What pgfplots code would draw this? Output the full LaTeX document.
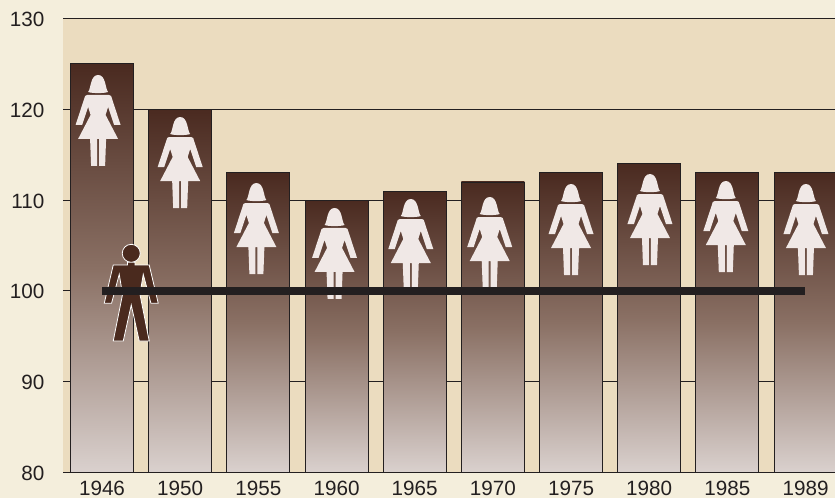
\documentclass[border=0pt]{standalone}
\usepackage{pgfplots}
\pgfplotsset{compat=1.18}
\usepackage{fontspec}
\setmainfont{Liberation Sans}
\definecolor{pagebg}{HTML}{F4EEDC}
\definecolor{plotbg}{HTML}{EBDCBF}
\definecolor{bartop}{HTML}{4A2A20}
\definecolor{barmid}{HTML}{8A7064}
\definecolor{barbot}{HTML}{DAD1CE}
\definecolor{womanc}{HTML}{F0E8E6}
\definecolor{manc}{HTML}{4A2A1E}
\definecolor{inkc}{HTML}{231F20}
\pgfdeclareplotmark{woman}{%
  \pgfsetxvec{\pgfpoint{0.75pt}{0pt}}\pgfsetyvec{\pgfpoint{0pt}{-0.75pt}}%
  \pgfsetfillcolor{womanc}%
  % head
  \pgfpathmoveto{\pgfpointxy{-10}{17}}%
  \pgfpathcurveto{\pgfpointxy{-7}{14}}{\pgfpointxy{-8}{0}}{\pgfpointxy{0}{0}}%
  \pgfpathcurveto{\pgfpointxy{8}{0}}{\pgfpointxy{7}{14}}{\pgfpointxy{10}{17}}%
  \pgfpathcurveto{\pgfpointxy{6}{18.5}}{\pgfpointxy{-6}{18.5}}{\pgfpointxy{-10}{17}}%
  \pgfpathclose
  % body
  \pgfpathmoveto{\pgfpointxy{-11}{20}}%
  \pgfpathlineto{\pgfpointxy{11}{20}}%
  \pgfpathlineto{\pgfpointxy{13}{21}}%
  \pgfpathlineto{\pgfpointxy{22.5}{50}}%
  \pgfpathlineto{\pgfpointxy{16}{50}}%
  \pgfpathlineto{\pgfpointxy{10}{32}}%
  \pgfpathlineto{\pgfpointxy{7.5}{40}}%
  \pgfpathlineto{\pgfpointxy{20}{64}}%
  \pgfpathlineto{\pgfpointxy{8}{64}}%
  \pgfpathlineto{\pgfpointxy{7}{91}}%
  \pgfpathlineto{\pgfpointxy{1}{91}}%
  \pgfpathlineto{\pgfpointxy{1}{64}}%
  \pgfpathlineto{\pgfpointxy{-1}{64}}%
  \pgfpathlineto{\pgfpointxy{-1}{91}}%
  \pgfpathlineto{\pgfpointxy{-7}{91}}%
  \pgfpathlineto{\pgfpointxy{-8}{64}}%
  \pgfpathlineto{\pgfpointxy{-20}{64}}%
  \pgfpathlineto{\pgfpointxy{-7.5}{40}}%
  \pgfpathlineto{\pgfpointxy{-10}{32}}%
  \pgfpathlineto{\pgfpointxy{-16}{50}}%
  \pgfpathlineto{\pgfpointxy{-22.5}{50}}%
  \pgfpathlineto{\pgfpointxy{-13}{21}}%
  \pgfpathclose
  \pgfusepath{fill}%
}
\pgfdeclareplotmark{man}{%
  \pgfsetxvec{\pgfpoint{0.75pt}{0pt}}\pgfsetyvec{\pgfpoint{0pt}{-0.75pt}}%
  \pgfsetfillcolor{manc}\pgfsetstrokecolor{white}\pgfsetlinewidth{0.6pt}%
  \pgfpathcircle{\pgfpointxy{0}{9}}{6.75pt}%
  \pgfpathmoveto{\pgfpointxy{-3.7}{18}}%
  \pgfpathlineto{\pgfpointxy{3.7}{18}}%
  \pgfpathlineto{\pgfpointxy{3.7}{20.7}}%
  \pgfpathlineto{\pgfpointxy{18}{20.7}}%
  \pgfpathlineto{\pgfpointxy{27}{59}}%
  \pgfpathlineto{\pgfpointxy{19.7}{59}}%
  \pgfpathlineto{\pgfpointxy{12}{30}}%
  \pgfpathlineto{\pgfpointxy{8.7}{50}}%
  \pgfpathlineto{\pgfpointxy{18}{96.7}}%
  \pgfpathlineto{\pgfpointxy{8}{96.7}}%
  \pgfpathlineto{\pgfpointxy{0}{60.7}}%
  \pgfpathlineto{\pgfpointxy{-8}{96.7}}%
  \pgfpathlineto{\pgfpointxy{-18}{96.7}}%
  \pgfpathlineto{\pgfpointxy{-8.7}{50}}%
  \pgfpathlineto{\pgfpointxy{-12}{30}}%
  \pgfpathlineto{\pgfpointxy{-19.7}{59}}%
  \pgfpathlineto{\pgfpointxy{-27}{59}}%
  \pgfpathlineto{\pgfpointxy{-18}{20.7}}%
  \pgfpathlineto{\pgfpointxy{-3.7}{20.7}}%
  \pgfpathclose
  \pgfusepath{fill,stroke}%
}
\pgfplotsset{onebar/.style={ybar, bar width=47.25pt, bar shift=0pt, draw=inkc, line width=0.6pt, top color=bartop, bottom color=barbot, middle color=barmid, forget plot}}
\begin{document}
\begin{tikzpicture}[x=1pt,y=1pt]
\useasboundingbox (0,0) rectangle (626.25,373.5);
\fill[pagebg] (0,0) rectangle (626.25,373.5);
\begin{axis}[
  at={(47.25pt,19.125pt)}, anchor=south west,
  scale only axis, width=579pt, height=340.5pt,
  xmin=-0.499, xmax=9.377, ymin=80, ymax=130,
  ytick={80,90,...,130},
  xtick={0,...,9},
  xticklabels={1946,1950,1955,1960,1965,1970,1975,1980,1985,1989},
  axis background/.style={fill=plotbg},
  axis line style={draw=none},
  major tick length=0pt,
  ymajorgrids, grid style={draw=inkc, line width=0.6pt},
  tick label style={font=\fontsize{15.5}{18}\selectfont, text=inkc},
  y tick label style={/pgf/number format/assume math mode=true, xshift=-10.5pt, yshift=-0.6pt},
  x tick label style={yshift=-2.8pt},
  clip mode=individual,
]
\addplot[onebar] coordinates {(0,125)};
\addplot[onebar] coordinates {(1,120)};
\addplot[onebar] coordinates {(2,113)};
\addplot[onebar] coordinates {(3,110)};
\addplot[onebar] coordinates {(4,111)};
\addplot[onebar] coordinates {(5,112)};
\addplot[onebar] coordinates {(6,113)};
\addplot[onebar] coordinates {(7,114)};
\addplot[onebar] coordinates {(8,113)};
\addplot[onebar] coordinates {(9,113)};
\addplot[only marks, mark=woman] coordinates {
 (-0.05,123.78) (1,119.15) (1.975,111.88) (2.975,109.13) (3.95,110.12) (4.96,110.34) (6,111.77) (7.01,112.87) (7.98,112.1) (9.005,111.77)};
\addplot[only marks, mark=man] coordinates {(0.374,105.13)};
\addplot[draw=inkc, line width=6pt, line cap=butt, no marks] coordinates {(0,100) (8.99,100)};
\end{axis}
\end{tikzpicture}
\end{document}
